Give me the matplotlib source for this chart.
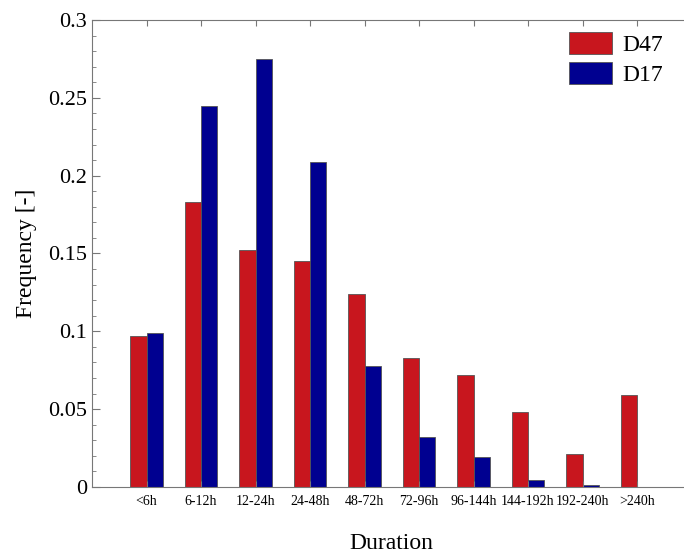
import matplotlib
matplotlib.use("Agg")
import matplotlib.pyplot as plt
import numpy as np
from matplotlib.ticker import MultipleLocator, FuncFormatter

categories = ["<6h", "6-12h", "12-24h", "24-48h", "48-72h", "72-96h",
              "96-144h", "144-192h", "192-240h", ">240h"]
d47 = [0.097, 0.183, 0.152, 0.145, 0.124, 0.083, 0.072, 0.048, 0.021, 0.059]
d17 = [0.099, 0.245, 0.275, 0.209, 0.078, 0.032, 0.019, 0.0045, 0.0013, 0.0]

plt.rcParams['font.family'] = ['Liberation Serif', 'DejaVu Serif']

fig = plt.figure(figsize=(6.84, 5.53), dpi=100)
ax = fig.add_axes([92/684, 66/553, 599.5/684, 467/553])

x = np.arange(len(categories))
w = 0.3
ax.bar(x - w/2, d47, w, color='#C8161E', edgecolor='#555555', linewidth=0.6, label='D47')
ax.bar(x + w/2, d17, w, color='#000090', edgecolor='#555555', linewidth=0.6, label='D17')

ax.set_xlim(-1, 10)
ax.set_ylim(0, 0.3)
ax.set_xticks(x)
ax.set_xticklabels(categories, fontsize=10)
ax.yaxis.set_major_locator(MultipleLocator(0.05))
ax.yaxis.set_minor_locator(MultipleLocator(0.01))
ax.yaxis.set_major_formatter(FuncFormatter(lambda v, p: '%g' % round(v, 3)))
ax.tick_params(axis='y', which='major', direction='in', length=6, color='#777777', labelsize=16)
ax.tick_params(axis='y', which='minor', direction='in', length=3, color='#777777')
ax.tick_params(axis='x', which='major', direction='in', length=4, color='#777777',
               top=True, pad=6)
for s in ax.spines.values():
    s.set_color('#777777')
    s.set_linewidth(0.8)

ax.set_ylabel('Frequency [-]', fontsize=17, labelpad=8)
ax.set_xlabel('Duration', fontsize=17, labelpad=18)

leg = ax.legend(loc='upper left', bbox_to_anchor=((569 - 92) / 599.5, 1 - 12 / 467),
                frameon=False, fontsize=17, handlelength=1.8, handleheight=1.05,
                handletextpad=0.45, labelspacing=0.25, borderpad=0, borderaxespad=0)

fig.savefig('out.png', dpi=100)
